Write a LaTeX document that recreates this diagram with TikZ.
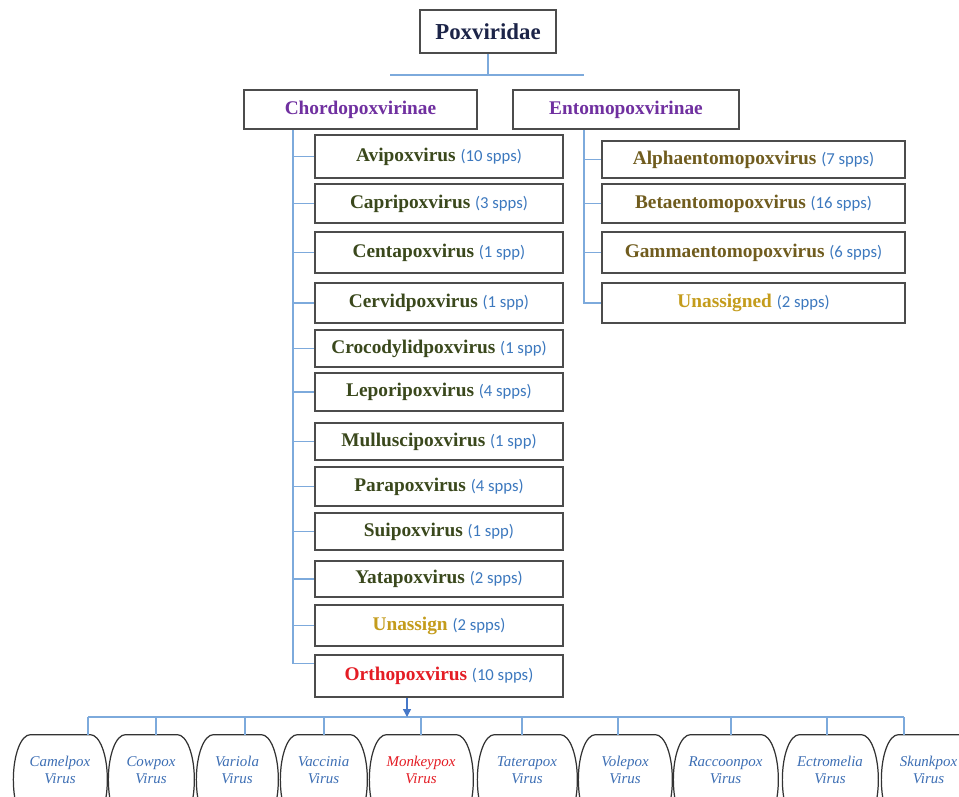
\documentclass[tikz,border=0pt]{standalone}
\usepackage{fontspec}
\setmainfont{Liberation Serif}
\newfontfamily\cntfont{Carlito}
\usetikzlibrary{arrows.meta,positioning}
\definecolor{navy}{RGB}{28,36,72}
\definecolor{plum}{RGB}{112,48,160}
\definecolor{olive}{RGB}{58,72,28}
\definecolor{bronze}{RGB}{112,92,30}
\definecolor{gold}{RGB}{196,156,28}
\definecolor{orthored}{RGB}{228,28,36}
\definecolor{cntblue}{RGB}{60,120,190}
\definecolor{linkblue}{RGB}{125,170,220}
\definecolor{virusblue}{RGB}{60,110,180}
\definecolor{arrowblue}{RGB}{70,120,200}
\tikzset{
  rank/.style={draw=black!70,line width=0.9pt,fill=white,align=center,
    inner sep=1pt,font=\fontsize{11}{13}\selectfont\bfseries},
  genus/.style={rank,minimum width=4.96cm,minimum height=#1},
  entgenus/.style={rank,minimum width=6.06cm,minimum height=#1},
  link/.style={draw=linkblue,line width=0.75pt},
  virus/.style={minimum height=1.4cm,minimum width=#1,inner xsep=0pt,
    align=center,font=\fontsize{8.5}{9.5}\selectfont\itshape},
  bulge/.style={draw=black!80,line width=0.7pt,fill=white},
}
\newcommand{\spp}[1]{{\cntfont\mdseries\fontsize{9.5}{11}\selectfont\color{cntblue}(#1)}}

\begin{document}
\begin{tikzpicture}
  \useasboundingbox (0,0) rectangle (19.18,-15.92);
  \clip (0,0) rectangle (19.18,-15.92);

  % family and subfamilies
  \node[rank,text=navy,font=\fontsize{13}{15}\selectfont\bfseries,
    minimum width=2.72cm,minimum height=0.86cm] (pox) at (9.76,-0.63) {Poxviridae};
  \node[rank,text=plum,minimum width=4.66cm,minimum height=0.78cm] (chordo) at (7.21,-2.19) {Chordopoxvirinae};
  \node[rank,text=plum,minimum width=4.52cm,minimum height=0.78cm] (ento) at (12.52,-2.19) {Entomopoxvirinae};
  \coordinate (hl) at (7.80,-1.50);
  \coordinate (hr) at (11.68,-1.50);
  \draw[link] (pox.south) -- (pox.south |- hl);
  \draw[link] (hl) -- (hr);

  % Chordopoxvirinae genera
  \coordinate (ct) at (5.86,-2.58);
  \foreach \y/\h/\n/\c/\k [count=\i] in {
    -3.13/.86/Avipoxvirus/olive/10 spps,
    -4.07/.78/Capripoxvirus/olive/3 spps,
    -5.05/.82/Centapoxvirus/olive/1 spp,
    -6.06/.80/Cervidpoxvirus/olive/1 spp,
    -6.97/.74/Crocodylidpoxvirus/olive/1 spp,
    -7.84/.76/Leporipoxvirus/olive/4 spps,
    -8.83/.74/Mulluscipoxvirus/olive/1 spp,
    -9.73/.78/Parapoxvirus/olive/4 spps,
    -10.63/.74/Suipoxvirus/olive/1 spp,
    -11.58/.72/Yatapoxvirus/olive/2 spps,
    -12.51/.82/Unassign/gold/2 spps,
    -13.52/.84/Orthopoxvirus/orthored/10 spps}
  {
    \node[genus=\h cm,text=\c] (g\i) at (8.78,\y) {\n\ \spp{\k}};
    \ifnum\i<12 \draw[link] (g\i.west) -- (g\i.west -| ct); \fi
  }
  \draw[link] (chordo.south -| ct) |- ([yshift=7pt]g12.west);

  % Entomopoxvirinae genera
  \coordinate (et) at (11.68,-2.58);
  \foreach \y/\h/\n/\c/\k [count=\i] in {
    -3.19/.74/Alphaentomopoxvirus/bronze/7 spps,
    -4.07/.78/Betaentomopoxvirus/bronze/16 spps,
    -5.05/.82/Gammaentomopoxvirus/bronze/6 spps,
    -6.06/.80/Unassigned/gold/2 spps}
  {
    \node[entgenus=\h cm,text=\c] (e\i) at (15.07,\y) {\n\ \spp{\k}};
    \ifnum\i<4 \draw[link] (e\i.west) -- (e\i.west -| et); \fi
  }
  \draw[link] (ento.south -| et) |- (e4.west);

  % Orthopoxvirus species
  \foreach \cx/\w/\dx/\t/\c [count=\i] in {
    1.20/1.88/1.76/Camelpox/virusblue,
    3.02/1.72/3.12/Cowpox/virusblue,
    4.74/1.64/4.90/Variola/virusblue,
    6.47/1.74/6.48/Vaccinia/virusblue,
    8.42/2.08/8.42/Monkeypox/orthored,
    10.54/2.00/10.44/Taterapox/virusblue,
    12.50/1.88/12.36/Volepox/virusblue,
    14.51/2.10/14.62/Raccoonpox/virusblue,
    16.60/1.92/16.54/Ectromelia/virusblue,
    18.57/1.90/18.08/Skunkpox/virusblue}
  {
    \node[virus=\w cm,text=\c] (v\i) at (\cx,-15.40) {};
    \path[bulge] ([xshift=0.34cm]v\i.north west) -- ([xshift=-0.34cm]v\i.north east)
      arc[start angle=90,end angle=-90,x radius=0.34cm,y radius=0.9cm]
      -- ++({-(\w-0.68)},0)
      arc[start angle=270,end angle=90,x radius=0.34cm,y radius=0.9cm] -- cycle;
    \node[virus=\w cm,text=\c] at (v\i) {\t\\Virus};
    \coordinate (d\i) at (\dx,-14.34);
    \draw[link] (d\i) -- (d\i |- v\i.north);
  }
  \draw[link] (d1) -- (d10);
  \draw[link,draw=arrowblue,-{Triangle[length=1.6mm,width=1.6mm]}]
    ([xshift=-0.64cm]g12.south) -- ([xshift=-0.64cm]g12.south |- d1);
\end{tikzpicture}
\end{document}
